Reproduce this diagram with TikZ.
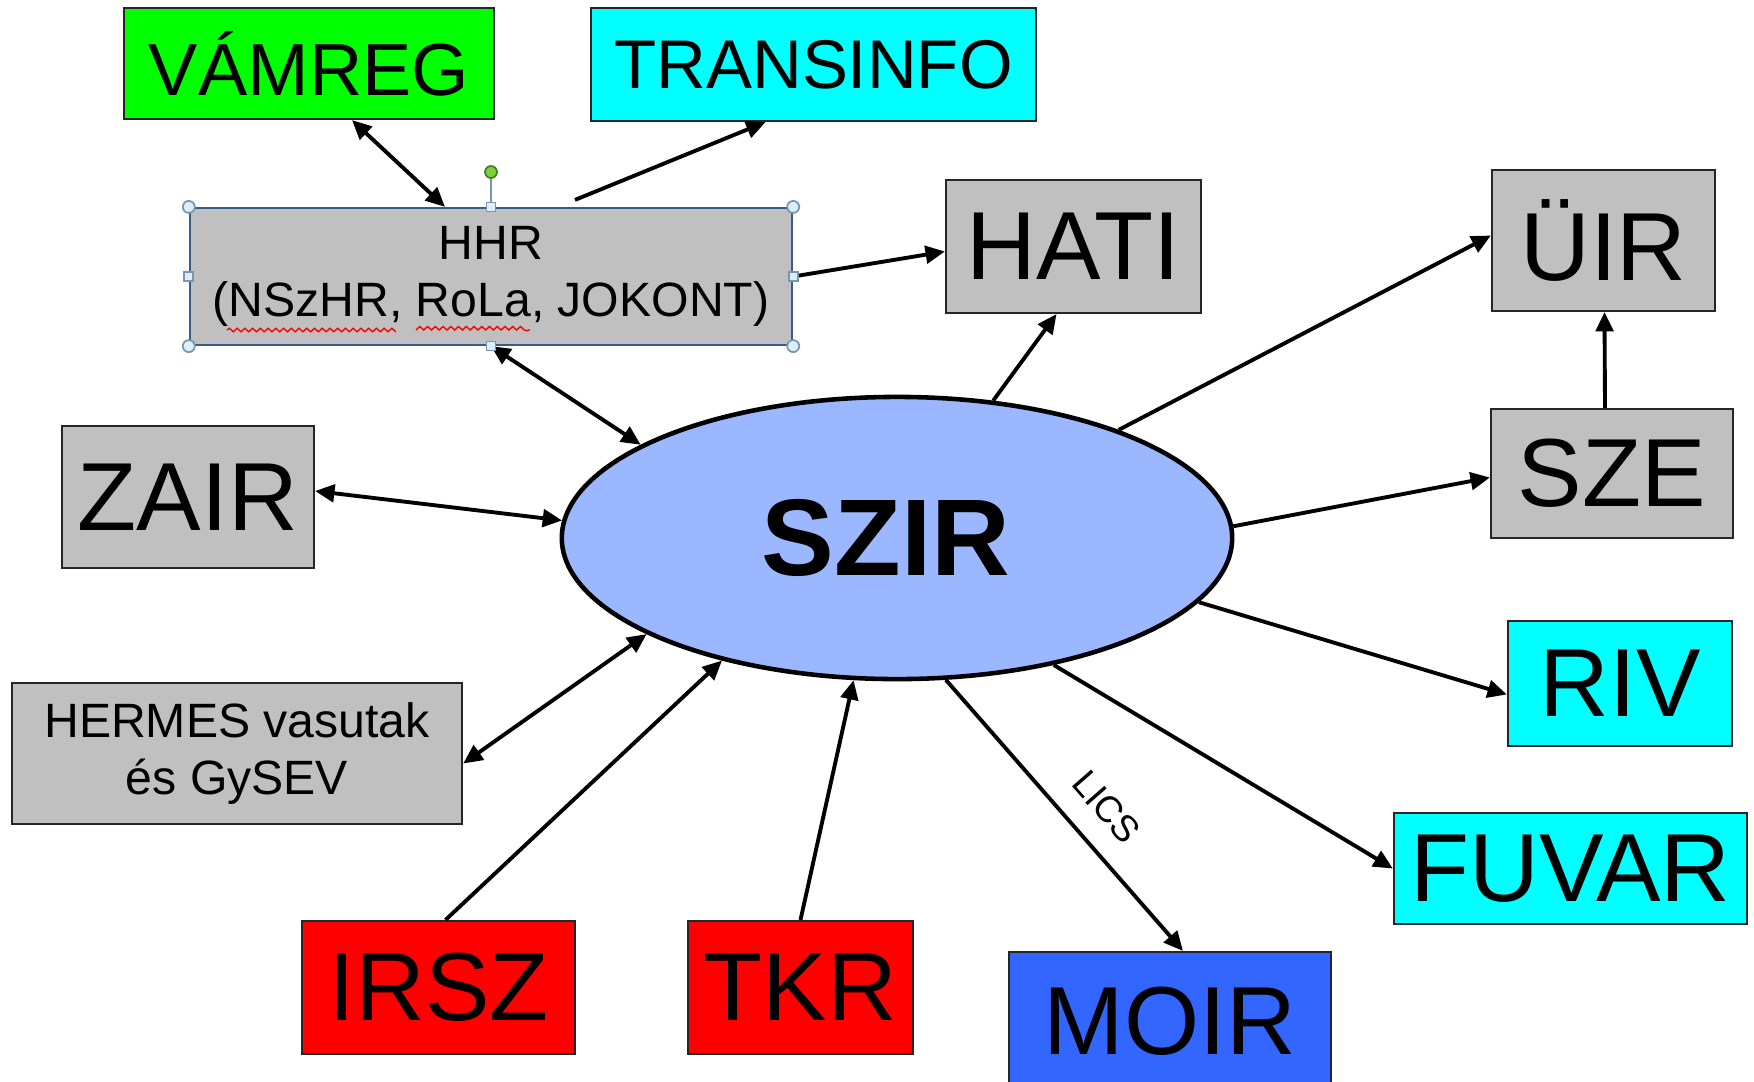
\documentclass[tikz,border=0pt]{standalone}
\usepackage{fontspec}
\setmainfont{Liberation Sans}
\usetikzlibrary{shapes.geometric,arrows.meta,calc,decorations.pathmorphing}
\definecolor{boxgrey}{RGB}{192,192,192}
\definecolor{vamgreen}{RGB}{0,255,0}
\definecolor{infocyan}{RGB}{0,255,255}
\definecolor{boxred}{RGB}{255,0,0}
\definecolor{moirblue}{RGB}{51,102,255}
\definecolor{szirblue}{RGB}{155,183,255}
\definecolor{selblue}{RGB}{56,93,138}
\definecolor{handlefill}{RGB}{222,238,246}
\definecolor{handleline}{RGB}{120,150,180}
\definecolor{rotgreen}{RGB}{125,210,60}
\tikzset{
  box/.style={rectangle, draw=black!85, line width=0.6pt, inner sep=0pt, fill=boxgrey},
  big/.style={font=\fontsize{27.5}{32}\selectfont},
  mid/.style={font=\fontsize{20}{24}\selectfont},
  small/.style={font=\fontsize{13.7}{16.2}\selectfont, align=center},
  handle/.style={draw=handleline, fill=handlefill, line width=0.5pt},
  handlesq/.style={handle, rectangle, inner sep=0pt, minimum size=0.09cm},
}
\begin{document}
\begin{tikzpicture}[x=0.01cm, y=-0.01cm, >={Triangle[length=5.5pt,width=5pt]},
  every edge/.append style={line width=1.1pt}]
\useasboundingbox (0,0) rectangle (1754,1081);

\node[box, mid, font=\fontsize{21}{24}\selectfont, fill=vamgreen, minimum width=3.70cm, minimum height=1.11cm] (vamreg) at (309,63.5) {VÁMREG};
\node[box, mid, font=\fontsize{19.6}{24}\selectfont, fill=infocyan, minimum width=4.45cm, minimum height=1.13cm] (transinfo) at (813.5,64.5) {TRANSINFO};
\node[box, small, draw=selblue, minimum width=6.02cm, minimum height=1.37cm, text depth=0.1cm] (hhr) at (491,276.5) {HHR\\(NSzHR, RoLa, JOKONT)};
\node[box, big, minimum width=2.55cm, minimum height=1.33cm] (hati) at (1073.5,246.5) {HATI};
\node[box, big, minimum width=2.23cm, minimum height=1.41cm] (uir) at (1603.5,240.5) {ÜIR};
\node[box, big, minimum width=2.42cm, minimum height=1.29cm] (sze) at (1612,473.5) {SZE};
\node[box, big, minimum width=2.52cm, minimum height=1.42cm] (zair) at (188,497) {ZAIR};
\node[box, small, minimum width=4.50cm, minimum height=1.41cm] (hermes) at (237,753.5) {HERMES vasutak\\és GySEV};
\node[box, big, fill=infocyan, minimum width=2.24cm, minimum height=1.25cm] (riv) at (1620,683.5) {RIV};
\node[box, big, fill=infocyan, minimum width=3.53cm, minimum height=1.11cm] (fuvar) at (1570.5,868.5) {FUVAR};
\node[box, big, fill=boxred, minimum width=2.73cm, minimum height=1.33cm] (irsz) at (438.5,987.5) {IRSZ};
\node[box, big, fill=boxred, minimum width=2.25cm, minimum height=1.33cm] (tkr) at (800.5,987.5) {TKR};
\node[box, big, fill=moirblue, minimum width=3.22cm, minimum height=1.38cm] (moir) at (1170,1021) {MOIR};

\node[ellipse, draw, line width=1.3pt, fill=szirblue, inner sep=0pt,
  minimum width=6.70cm, minimum height=2.82cm,
  font=\fontsize{31}{36}\selectfont\bfseries] (szir) at (897,538) {\kern-0.22cm SZIR};

% spelling marks
\draw[red, line width=0.4pt, decorate, decoration={snake, amplitude=0.5pt, segment length=2.2pt}]
  (227,330) -- (394,330) (416,330) -- (530,330);

\path
($(vamreg.south)+(43,0)$) edge[<->] ($(hhr.north)+(-46,0)$)
($(hhr.north)+(84,-7)$) edge[->] ($(transinfo.south)+(-48,0)$)
(hhr.east) edge[->] ($(hati.west)+(0,5)$)
(hhr.south) edge[<->] (szir.160)
(szir.55.6) edge[->] ($(hati.south)+(-17,0)$)
(szir.26.1) edge[->] ($(uir.west)+(0,-5)$)
($(sze.north)+(-7,0)$) edge[->] ($(uir.south)+(1,0)$)
(szir.2.9) edge[->] ($(sze.west)+(0,4)$)
($(zair.east)+(0,-6)$) edge[<->] (szir.177.1)
($(hermes.east)+(0,10)$) edge[<->] (szir.201.3)
($(irsz.north)+(7,0)$) edge[->] (szir.215.1)
(tkr.north) edge[->] (szir.-107.9)
(szir.-71.6) edge[->] node[sloped, above=3pt, pos=0.56, font=\fontsize{10.5}{12}\selectfont] {LICS} ($(moir.north)+(13,0)$)
(szir.-39.3) edge[->] (fuvar.west)
(szir.-12.8) edge[->] ($(riv.west)+(0,11)$);

% selection handles
\node[handle, circle, fill=rotgreen, draw=rotgreen!60!black, inner sep=0pt, minimum size=0.12cm] (rot) at (491,172) {};
\draw[handleline, line width=0.6pt] (rot) -- (hhr.north);
\foreach \a in {north west, north east, south west, south east}
  \draw[handle] (hhr.\a) circle[radius=0.06cm];
\foreach \a in {north, south, west, east}
  \node[handlesq] at (hhr.\a) {};
\end{tikzpicture}
\end{document}
